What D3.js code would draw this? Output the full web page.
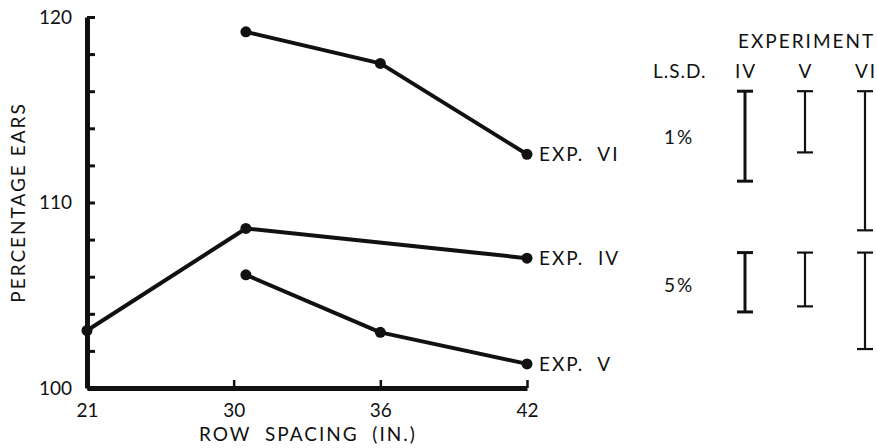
<!DOCTYPE html>
<html>
<head>
<meta charset="utf-8">
<script src="https://cdn.jsdelivr.net/npm/d3@7"></script>
<style>
  body { margin: 0; background: #fff; }
  text { font-family: Lato, "DejaVu Sans", sans-serif; fill: #111; }
  .lbl { font-size: 19px; letter-spacing: 2px; white-space: pre; }
</style>
</head>
<body>
<div id="chart"></div>
<script>
// Row spacing ticks (drawn evenly spaced in the original)
const spacingTicks = [21, 30, 36, 42];
const yTicks = [100, 110, 120];

// Percentage ears per experiment (the "30" points sit a bit right of the tick)
const expIV = [[21, 103.1], [30.5, 108.6], [42, 107.0]];
const expV  = [[30.5, 106.1], [36, 103.0], [42, 101.3]];
const expVI = [[30.5, 119.2], [36, 117.5], [42, 112.6]];
const seriesNames = ["EXP.  IV", "EXP.  V", "EXP.  VI"];

// L.S.D. bar lengths (percentage units) for IV, V, VI
const lsdExperiments = ["IV", "V", "VI"];
const lsd1 = [4.85, 3.3, 7.5];
const lsd5 = [3.2, 2.9, 5.2];

function drawChart() {
    const width = 877, height = 448;
    const svg = d3.select("#chart").append("svg")
        .attr("width", width)
        .attr("height", height);

    // Scales
    const xPoint = d3.scalePoint()
        .domain(spacingTicks)
        .range([87, 527]);
    const x = d3.scaleLinear()
        .domain(spacingTicks)
        .range(spacingTicks.map(d => xPoint(d)));
    const y = d3.scaleLinear()
        .domain([100, 120])
        .range([388, 17]);

    // Y axis
    const yAxis = svg.append("g")
        .attr("transform", "translate(87,0)")
        .call(d3.axisLeft(y)
            .tickValues(d3.range(100, 121, 2))
            .tickSizeInner(-8)
            .tickSizeOuter(0)
            .tickPadding(15)
            .tickFormat(d => yTicks.includes(d) ? d : ""));
    yAxis.select(".domain").attr("stroke", "#111").attr("stroke-width", 5);
    yAxis.selectAll(".tick line").attr("stroke", "#111").attr("stroke-width", 3);
    yAxis.selectAll(".tick text").style("font-size", "19px");

    // X axis
    const xAxis = svg.append("g")
        .attr("transform", "translate(0,388)")
        .call(d3.axisBottom(x)
            .tickValues(spacingTicks)
            .tickSizeInner(-8)
            .tickSizeOuter(0)
            .tickPadding(16));
    xAxis.select(".domain").attr("stroke", "#111").attr("stroke-width", 5);
    xAxis.selectAll(".tick line").attr("stroke", "#111").attr("stroke-width", 2.5);
    xAxis.selectAll(".tick text").style("font-size", "19px");

    // Axis labels
    svg.append("text")
        .attr("class", "lbl")
        .attr("transform", `translate(25,${(y(100) + y(120)) / 2}) rotate(-90)`)
        .attr("text-anchor", "middle")
        .text("PERCENTAGE EARS");

    svg.append("text")
        .attr("class", "lbl")
        .attr("x", 199)
        .attr("y", 441)
        .text("ROW  SPACING  (IN.)");

    // Series lines
    const line = d3.line()
        .x(d => x(d[0]))
        .y(d => y(d[1]));

    const allSeries = [expIV, expV, expVI];
    allSeries.forEach((s, i) => {
        svg.append("path")
            .datum(s)
            .attr("d", line)
            .attr("fill", "none")
            .attr("stroke", "#111")
            .attr("stroke-width", 4)
            .attr("stroke-linejoin", "round");

        svg.selectAll(null)
            .data(s)
            .enter()
            .append("circle")
            .attr("cx", d => x(d[0]))
            .attr("cy", d => y(d[1]))
            .attr("r", 5.5)
            .attr("fill", "#111");

        const last = s[s.length - 1];
        svg.append("text")
            .attr("class", "lbl")
            .attr("x", x(last[0]) + 12)
            .attr("y", y(last[1]))
            .attr("dy", "0.36em")
            .text(seriesNames[i]);
    });

    // L.S.D. legend
    const xLsd = d3.scalePoint()
        .domain(lsdExperiments)
        .range([745, 865]);

    svg.append("text")
        .attr("class", "lbl")
        .attr("x", 738)
        .attr("y", 48)
        .text("EXPERIMENT");

    svg.append("text")
        .attr("class", "lbl")
        .attr("x", 653)
        .attr("y", 78)
        .style("letter-spacing", "1px")
        .text("L.S.D.");

    svg.selectAll(".exp-label")
        .data(lsdExperiments)
        .enter()
        .append("text")
        .attr("class", "lbl exp-label")
        .attr("x", d => xLsd(d) + 1)
        .attr("y", 78)
        .attr("text-anchor", "middle")
        .text(d => d);

    const lsdGroups = [
        {label: "1%", top: 116.0, values: lsd1, labelY: 144},
        {label: "5%", top: 107.3, values: lsd5, labelY: 292}
    ];

    lsdGroups.forEach(g => {
        svg.append("text")
            .attr("class", "lbl")
            .attr("x", 679)
            .attr("y", g.labelY)
            .attr("text-anchor", "middle")
            .text(g.label);

        g.values.forEach((v, i) => {
            const cx = xLsd(lsdExperiments[i]);
            const y0 = y(g.top), y1 = y(g.top - v);
            const bar = svg.append("g")
                .attr("stroke", "#111")
                .attr("stroke-width", i === 0 ? 3 : 2.2);
            bar.append("line")
                .attr("x1", cx).attr("x2", cx)
                .attr("y1", y0).attr("y2", y1);
            bar.append("line")
                .attr("x1", cx - 8).attr("x2", cx + 8)
                .attr("y1", y0).attr("y2", y0);
            bar.append("line")
                .attr("x1", cx - 8).attr("x2", cx + 8)
                .attr("y1", y1).attr("y2", y1);
        });
    });
}

drawChart();
</script>
</body>
</html>
